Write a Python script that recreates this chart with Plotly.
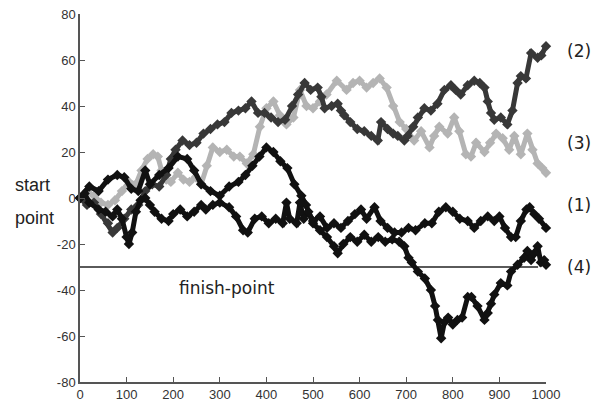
import plotly.graph_objects as go

# ---- data ----
x1 = [0,10,20,40,55,70,80,90,100,105,112,120,130,140,150,160,175,190,200,215,230,245,260,270,285,300,320,335,350,360,375,390,405,420,435,443,450,465,472,480,490,500,515,530,545,560,575,590,603,615,632,645,660,675,690,705,720,740,755,770,785,800,815,832,846,860,875,889,900,912,925,935,946,958,965,975,985,1000]
y1 = [0,2,-2,-5,-6,-8,-5,-9,-17,-20,-15,-6,-1,0,-3,-6,-9,-10,-7,-5,-8,-6,-3,-5,-3,-2,-4,-8,-14,-15,-9,-8,-11,-9,-11,-2,-9,-11,-2,-9,-6,-10,-8,-13,-11,-13,-10,-7,-5,-9,-4,-10,-13,-15,-15,-13,-14,-11,-11,-6,-4,-6,-9,-10,-13,-10,-8,-10,-8,-13,-17,-17,-10,-5,-4,-7,-9,-13]

x2 = [0,15,30,45,60,70,80,95,110,125,140,155,170,185,195,205,220,235,250,265,280,295,310,325,340,355,368,382,396,410,425,440,455,468,482,495,510,518,525,540,553,560,567,580,595,610,625,639,646,660,672,682,696,703,715,725,739,753,767,782,796,806,817,832,846,858,868,875,882,889,903,917,928,939,946,957,968,982,990,1000]
y2 = [0,-3,-2,-7,-11,-15,-13,-9,-5,-3,3,6,5,10,17,21,25,23,24,28,30,32,33,37,38,39,42,37,37,35,33,34,40,45,50,47,48,44,39,40,41,38,36,33,30,29,27,25,33,30,28,27,25,27,31,35,39,38,41,47,49,47,45,49,51,50,48,42,37,34,35,32,38,50,53,52,63,61,62,66]

x3 = [0,15,30,45,60,75,90,105,120,132,145,157,167,175,185,195,210,222,235,248,260,272,285,300,315,330,343,358,372,386,400,415,429,443,458,472,486,500,515,529,551,572,586,600,615,629,643,658,672,686,700,717,732,750,760,771,789,803,814,828,839,850,868,880,893,907,921,932,946,960,971,982,992,1000]
y3 = [0,3,1,-2,-3,-1,3,7,6,12,17,19,18,12,8,7,11,8,7,9,6,14,22,20,21,18,18,15,19,31,39,42,36,32,35,47,40,39,42,45,51,47,50,51,48,50,52,48,40,33,30,25,29,22,27,31,28,35,29,19,18,24,20,24,28,26,21,27,19,28,21,15,13,11]

x4 = [0,20,40,60,80,95,110,125,140,150,170,190,210,230,245,260,280,300,320,340,355,370,385,400,415,430,445,460,475,485,500,515,530,545,553,565,580,595,610,625,640,655,670,685,696,705,712,725,740,753,762,768,775,782,790,800,810,820,832,840,853,868,875,882,889,903,917,925,939,953,960,968,975,982,989,996,1000]
y4 = [0,5,3,8,10,9,4,3,12,6,10,13,18,17,12,6,3,1,5,7,10,14,18,22,20,16,13,6,1,-3,-11,-14,-17,-21,-24,-20,-17,-19,-16,-19,-17,-19,-18,-19,-21,-26,-28,-32,-35,-40,-47,-53,-61,-54,-52,-55,-53,-52,-43,-43,-47,-53,-50,-46,-42,-37,-38,-32,-29,-26,-23,-27,-24,-21,-28,-27,-29]

finish_x = [0, 983]
finish_y = [-30, -30]

series_labels = ["(1)", "(2)", "(3)", "(4)"]
label_y = [-3, 64, 24, -30]

x_ticks = [0, 100, 200, 300, 400, 500, 600, 700, 800, 900, 1000]
x_ticktext = ["0", "100", "200", "300", "400", "500", "600", "700", "800", "900", "1000"]
y_ticks = [-80, -60, -40, -20, 0, 20, 40, 60, 80]
y_ticktext = ["-80", "-60", "-40", "-20", "0", "20", "40", "60", "80"]

# ---- figure ----
fig = go.Figure()

fig.add_trace(go.Scatter(x=finish_x, y=finish_y, mode="lines",
                         line=dict(color="#5a5a5a", width=2),
                         hoverinfo="skip", showlegend=False))

def walk(x, y, color):
    return go.Scatter(x=x, y=y, mode="lines+markers",
                      line=dict(color=color, width=5),
                      marker=dict(symbol="diamond", size=8, color=color, line=dict(width=0)),
                      cliponaxis=False, showlegend=False)

fig.add_trace(walk(x3, y3, "#b4b4b4"))
fig.add_trace(walk(x2, y2, "#383838"))
fig.add_trace(walk(x4, y4, "#111111"))
fig.add_trace(walk(x1, y1, "#111111"))

annotations = []
for lab, ly in zip(series_labels, label_y):
    annotations.append(dict(text=lab, xref="paper", yref="y", x=1.041, y=ly,
                            xanchor="left", yanchor="middle", showarrow=False,
                            font=dict(family="DejaVu Sans", size=17, color="#222")))
annotations.append(dict(text="start", xref="paper", yref="y", x=-0.144, y=5.5,
                        xanchor="left", yanchor="middle", showarrow=False,
                        font=dict(family="Liberation Sans", size=18, color="#222")))
annotations.append(dict(text="point", xref="paper", yref="y", x=-0.144, y=-8.5,
                        xanchor="left", yanchor="middle", showarrow=False,
                        font=dict(family="Liberation Sans", size=18, color="#222")))
annotations.append(dict(text="finish-point", xref="x", yref="y", x=315, y=-39,
                        xanchor="center", yanchor="middle", showarrow=False,
                        font=dict(family="DejaVu Sans", size=17, color="#222")))

fig.update_layout(
    width=600, height=404,
    margin=dict(l=80, r=54, t=14, b=22),
    paper_bgcolor="white", plot_bgcolor="white",
    annotations=annotations,
    xaxis=dict(range=[0, 1000], tickvals=x_ticks, ticktext=x_ticktext,
               showgrid=False, zeroline=False, showline=True, automargin=False,
               linecolor="#555", linewidth=1.5, ticks="inside", ticklen=5,
               tickcolor="#555", tickwidth=1.2,
               tickfont=dict(family="Liberation Sans", size=13, color="#333")),
    yaxis=dict(range=[-80, 80], tickvals=y_ticks, ticktext=y_ticktext,
               showgrid=False, zeroline=False, showline=True, automargin=False,
               linecolor="#555", linewidth=1.5, ticks="inside", ticklen=5,
               tickcolor="#555", tickwidth=1.2,
               tickfont=dict(family="Liberation Sans", size=13, color="#333")),
)

fig.write_html("out.html", config={"displayModeBar": False},
               post_script="document.body.style.margin='0';document.body.style.overflow='hidden';")
